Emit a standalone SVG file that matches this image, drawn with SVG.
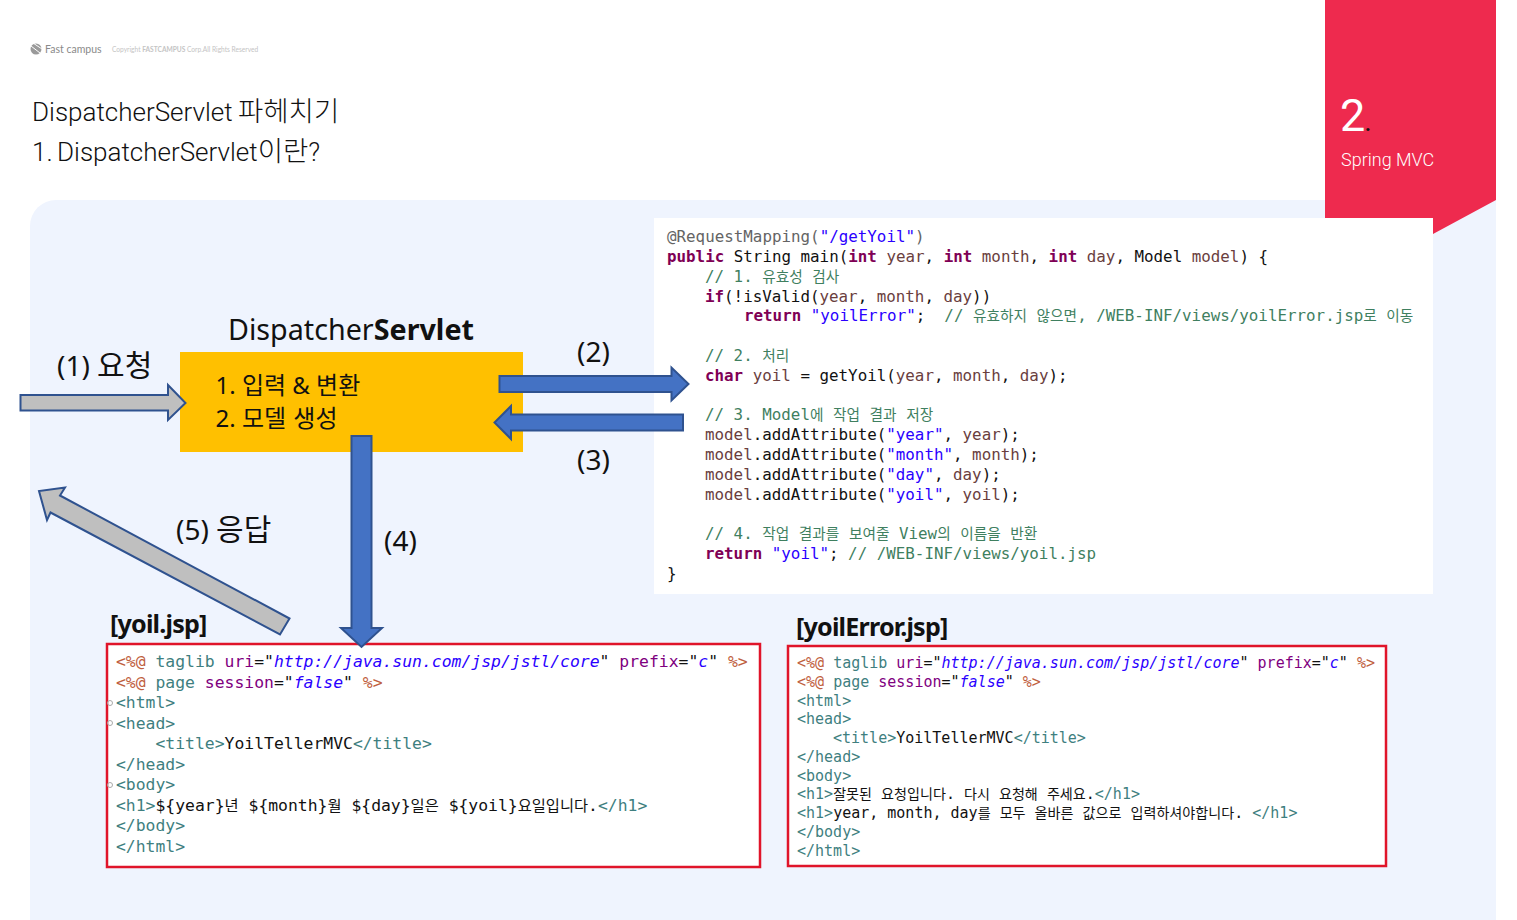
<svg xmlns="http://www.w3.org/2000/svg" width="1517" height="920" viewBox="0 0 1517 920">
<style>
text{white-space:pre}
.ui{font-family:"Noto Sans","Noto Sans CJK KR",sans-serif;fill:#111}
.t{font-family:Roboto,"Noto Sans CJK KR",sans-serif;font-weight:300;font-size:26px;fill:#111}
.t .k{font-size:27.5px;font-family:"Noto Sans CJK KR",sans-serif;font-weight:300}
.lb{font-size:28px}
.lb .k{font-size:30px;font-family:"Noto Sans CJK KR",sans-serif}
.bx{font-size:24px}
.jf{font-weight:700;letter-spacing:-.8px;font-size:25.1px}
.c{font-family:"DejaVu Sans Mono","Noto Sans CJK KR",monospace;fill:#111}
.a{font-size:15.85px}.b{font-size:16.4px}.d{font-size:15px}
.k{font-family:"Noto Sans CJK KR",sans-serif}
.a .k{font-size:14.7px}.b .k{font-size:15.3px}.d .k{font-size:14.1px}
.kw{fill:#7f0055;font-weight:700}.s{fill:#2a00ff}.v{fill:#6a3e3e}.m{fill:#3f7f5f}.an{fill:#646464}
.tg{fill:#3f7f7f}.at{fill:#7f007f}.dr{fill:#bf5f3f}.i{font-style:italic;fill:#2a00ff}
.gr{fill:#bfbfbf;stroke:#2f528f;stroke-width:2}
.bl{fill:#4472c4;stroke:#2f528f;stroke-width:2}
.rb{fill:#fff;stroke:#e0142a;stroke-width:2.5}
.fold{fill:none;stroke:#aaa;stroke-width:1}
</style>
<rect width="1517" height="920" fill="#fff"/>
<path id="background" d="M30 920V226A26 26 0 0 1 56 200H1496V920Z" fill="#eff4fe"/>
<g id="section-tab">
<path d="M1325 0H1496V200L1433 234V218H1325Z" fill="#ee2a4e"/>
<text x="1340" y="131" font-family="Roboto,sans-serif" font-size="45" fill="#fff">2</text>
<text x="1365" y="131" font-family="Roboto,sans-serif" font-size="20" font-weight="700" fill="#111">.</text>
<text x="1341" y="166" font-family="Roboto,sans-serif" font-weight="300" font-size="18" fill="#fff">Spring MVC</text>
</g>
<g id="logo">
<circle cx="36" cy="49" r="5.5" fill="#9a9a9a"/>
<path d="M31 46L40 53M33 43L42 49" stroke="#fff" stroke-width="1"/>
<text x="45" y="53" font-family="Lato,sans-serif" font-size="10.5" fill="#8a8a8a">Fast campus</text>
<text x="112" y="52" font-family="Lato,sans-serif" font-size="6.6" fill="#c4c4c4">Copyright <tspan font-weight="700">FASTCAMPUS</tspan> Corp.All Rights Reserved</text>
</g>
<g id="title">
<text class="t" x="32" y="121">DispatcherServlet <tspan class="k" x="238">파헤치기</tspan></text>
<text class="t" x="32" y="161">1. <tspan x="57">DispatcherServlet</tspan><tspan class="k">이란</tspan>?</text>
</g>
<g id="code-panel">
<rect x="654" y="218" width="779" height="376" fill="#fff"/>
<text class="c a" x="667" y="242"><tspan class="an">@RequestMapping(</tspan><tspan class="s">"/getYoil"</tspan><tspan class="an">)</tspan></text>
<text class="c a" x="667" y="262"><tspan class="kw">public</tspan> String main(<tspan class="kw">int</tspan> <tspan class="v">year</tspan>, <tspan class="kw">int</tspan> <tspan class="v">month</tspan>, <tspan class="kw">int</tspan> <tspan class="v">day</tspan>, Model <tspan class="v">model</tspan>) {</text>
<text class="c a m" x="705" y="282">// 1. <tspan class="k">유효성</tspan> <tspan class="k">검사</tspan></text>
<text class="c a" x="705" y="302"><tspan class="kw">if</tspan>(!isValid(<tspan class="v">year</tspan>, <tspan class="v">month</tspan>, <tspan class="v">day</tspan>))</text>
<text class="c a" x="744" y="321"><tspan class="kw">return</tspan> <tspan class="s">"yoilError"</tspan>;  <tspan class="m">// <tspan class="k">유효하지</tspan> <tspan class="k">않으면</tspan>, /WEB-INF/views/yoilError.jsp<tspan class="k">로</tspan> <tspan class="k">이동</tspan></tspan></text>
<text class="c a m" x="705" y="361">// 2. <tspan class="k">처리</tspan></text>
<text class="c a" x="705" y="381"><tspan class="kw">char</tspan> <tspan class="v">yoil</tspan> = getYoil(<tspan class="v">year</tspan>, <tspan class="v">month</tspan>, <tspan class="v">day</tspan>);</text>
<text class="c a m" x="705" y="420">// 3. Model<tspan class="k">에</tspan> <tspan class="k">작업</tspan> <tspan class="k">결과</tspan> <tspan class="k">저장</tspan></text>
<text class="c a" x="705" y="440"><tspan class="v">model</tspan>.addAttribute(<tspan class="s">"year"</tspan>, <tspan class="v">year</tspan>);</text>
<text class="c a" x="705" y="460"><tspan class="v">model</tspan>.addAttribute(<tspan class="s">"month"</tspan>, <tspan class="v">month</tspan>);</text>
<text class="c a" x="705" y="480"><tspan class="v">model</tspan>.addAttribute(<tspan class="s">"day"</tspan>, <tspan class="v">day</tspan>);</text>
<text class="c a" x="705" y="500"><tspan class="v">model</tspan>.addAttribute(<tspan class="s">"yoil"</tspan>, <tspan class="v">yoil</tspan>);</text>
<text class="c a m" x="705" y="539">// 4. <tspan class="k">작업</tspan> <tspan class="k">결과를</tspan> <tspan class="k">보여줄</tspan> View<tspan class="k">의</tspan> <tspan class="k">이름을</tspan> <tspan class="k">반환</tspan></text>
<text class="c a" x="705" y="559"><tspan class="kw">return</tspan> <tspan class="s">"yoil"</tspan>; <tspan class="m">// /WEB-INF/views/yoil.jsp</tspan></text>
<text class="c a" x="667" y="579">}</text>
</g>
<g id="dispatcher-servlet">
<text class="ui" x="228" y="340" font-size="28.7">Dispatcher<tspan font-weight="700">Servlet</tspan></text>
<rect x="180" y="352" width="343" height="100" fill="#ffc000"/>
<text class="ui bx" x="215.500" y="394">1. 입력 &amp; 변환</text>
<text class="ui bx" x="215.500" y="427">2. 모델 <tspan dx="1">생성</tspan></text>
</g>
<g id="yoil-jsp">
<text class="ui jf" x="110" y="633">[yoil.jsp]</text>
<rect class="rb" x="107" y="644" width="653" height="223"/>
<circle class="fold" cx="110" cy="703" r="2.5"/>
<circle class="fold" cx="110" cy="723" r="2.5"/>
<circle class="fold" cx="110" cy="785" r="2.5"/>
<text class="c b" x="116" y="667"><tspan class="dr">&lt;%@</tspan> <tspan class="tg">taglib</tspan> <tspan class="at">uri</tspan>="<tspan class="i">http://java.sun.com/jsp/jstl/core</tspan>" <tspan class="at">prefix</tspan>="<tspan class="i">c</tspan>" <tspan class="dr">%&gt;</tspan></text>
<text class="c b" x="116" y="687.5"><tspan class="dr">&lt;%@</tspan> <tspan class="tg">page</tspan> <tspan class="at">session</tspan>="<tspan class="i">false</tspan>" <tspan class="dr">%&gt;</tspan></text>
<text class="c b tg" x="116" y="708">&lt;html&gt;</text>
<text class="c b tg" x="116" y="728.5">&lt;head&gt;</text>
<text class="c b tg" x="155.500" y="749">&lt;title&gt;<tspan fill="#111">YoilTellerMVC</tspan>&lt;/title&gt;</text>
<text class="c b tg" x="116" y="769.500">&lt;/head&gt;</text>
<text class="c b tg" x="116" y="790">&lt;body&gt;</text>
<text class="c b tg" x="116" y="810.500">&lt;h1&gt;<tspan fill="#111">${year}<tspan class="k">년</tspan> ${month}<tspan class="k">월</tspan> ${day}<tspan class="k">일은</tspan> ${yoil}<tspan class="k">요일입니다</tspan>.</tspan>&lt;/h1&gt;</text>
<text class="c b tg" x="116" y="831">&lt;/body&gt;</text>
<text class="c b tg" x="116" y="851.500">&lt;/html&gt;</text>
</g>
<g id="yoilerror-jsp">
<text class="ui jf" x="796" y="636">[yoilError.jsp]</text>
<rect class="rb" x="788" y="646" width="598" height="220"/>
<text class="c d" x="797" y="668"><tspan class="dr">&lt;%@</tspan> <tspan class="tg">taglib</tspan> <tspan class="at">uri</tspan>="<tspan class="i">http://java.sun.com/jsp/jstl/core</tspan>" <tspan class="at">prefix</tspan>="<tspan class="i">c</tspan>" <tspan class="dr">%&gt;</tspan></text>
<text class="c d" x="797" y="687"><tspan class="dr">&lt;%@</tspan> <tspan class="tg">page</tspan> <tspan class="at">session</tspan>="<tspan class="i">false</tspan>" <tspan class="dr">%&gt;</tspan></text>
<text class="c d tg" x="797" y="705.500">&lt;html&gt;</text>
<text class="c d tg" x="797" y="724">&lt;head&gt;</text>
<text class="c d tg" x="833" y="743">&lt;title&gt;<tspan fill="#111">YoilTellerMVC</tspan>&lt;/title&gt;</text>
<text class="c d tg" x="797" y="762">&lt;/head&gt;</text>
<text class="c d tg" x="797" y="780.500">&lt;body&gt;</text>
<text class="c d tg" x="797" y="799">&lt;h1&gt;<tspan fill="#111"><tspan class="k">잘못된</tspan> <tspan class="k">요청입니다</tspan>. <tspan class="k">다시</tspan> <tspan class="k">요청해</tspan> <tspan class="k">주세요</tspan>.</tspan>&lt;/h1&gt;</text>
<text class="c d tg" x="797" y="818">&lt;h1&gt;<tspan fill="#111">year, month, day<tspan class="k">를</tspan> <tspan class="k">모두</tspan> <tspan class="k">올바른</tspan> <tspan class="k">값으로</tspan> <tspan class="k">입력하셔야합니다</tspan>. </tspan>&lt;/h1&gt;</text>
<text class="c d tg" x="797" y="837">&lt;/body&gt;</text>
<text class="c d tg" x="797" y="855.500">&lt;/html&gt;</text>
</g>
<g id="connectors">
<polygon class="gr" points="20.500,395 168,395 168,385 185.500,403 168,420 168,410.500 20.500,410.500"/>
<polygon class="gr" points="289.500,618.500 280,634.500 50.500,512.500 47,520 39,491 65,487.500 60,495.500"/>
<polygon class="bl" points="499.500,376 671.500,376 671.500,367.500 688.500,384 671.500,400.500 671.500,392 499.500,392"/>
<polygon class="bl" points="683,414.500 511,414.500 511,406 494.500,422.500 511,439 511,430.500 683,430.500"/>
<polygon class="bl" points="351.500,436 371.500,436 371.500,628 382,628 361.500,647 341,628 351.500,628"/>
<text class="ui lb" x="57" y="376">(1) <tspan class="k">요청</tspan></text>
<text class="ui lb" x="577" y="362">(2)</text>
<text class="ui lb" x="577" y="470">(3)</text>
<text class="ui lb" x="384" y="551">(4)</text>
<text class="ui lb" x="176" y="540">(5) <tspan class="k">응답</tspan></text>
</g>
</svg>
